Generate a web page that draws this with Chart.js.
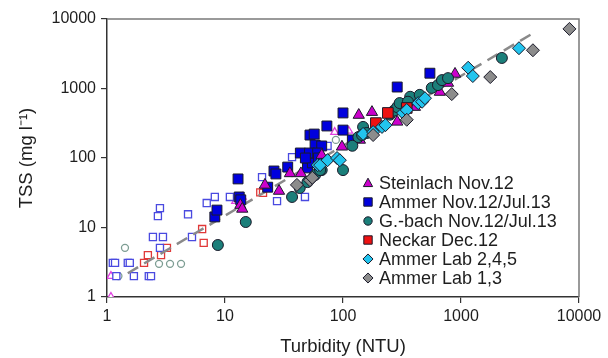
<!DOCTYPE html>
<html>
<head>
<meta charset="utf-8">
<script src="https://cdn.jsdelivr.net/npm/chart.js"></script>
<style>
  body { margin: 0; background: #fff; }
  #wrap { width: 608px; height: 358px; }
</style>
</head>
<body>
<div id="wrap"><canvas id="tssChart"></canvas></div>
<script>
// Werte: [Trübung NTU, TSS mg/l]
const decadeTicks = [1, 10, 100, 1000, 10000];

const steinlach = [[13.5,21],[14,18.5],[21.8,41],[28.7,33.5],[35.5,60],[44,60],[66,110],[98,145],[139,182],
  [136,415],[176,457],[288,331],[390,575],[407,540],[662,890],[776,1200],[890,1620]];
const steinlachOpen = [[1.08,2.0],[1.08,1.0],[12.3,24],[14,27.5],[85,236],[112,245]];

const ammer = [[8.2,14.2],[8.55,17.8],[12.9,50],[13.2,27.5],[13.6,25],[23,38],[26,65],[27,59],[34,74],
  [43.5,118],[50,72],[55,85],[52.5,214],[57,221],[73,289],[58,154],[66,149],[52,118],[61,118],[48,100],
  [62,100],[100,445],[100,252],[120,182],[288,1050],[545,1660]];
const ammerOpen = [[1.12,3.1],[1.17,3.1],[1.2,2.0],[1.5,3.1],[1.56,3.1],[1.69,2.0],[2.26,2.0],[2.36,2.0],
  [2.45,7.3],[2.98,7.3],[2.81,5.1],[2.7,14.6],[2.81,19],[4.86,15.5],[5.25,7.3],[7.0,22.5],[8.2,27.5],
  [11.0,27.5],[20.6,53],[27.6,24],[37,103],[47.6,27.5],[74,149]];

const gbach = [[8.7,5.6],[15,12],[37,27.5],[43,37],[50,45],[58,57],[66,67],[64,67],[100,67],[120,150],
  [135,200],[148,280],[159,229],[145,214],[195,297],[250,420],[270,480],[288,540],[302,617],[371,760],
  [355,645],[447,810],[565,1020],[638,1120],[690,1320],[776,1410],[2220,2750]];
const gbachOpen = [[1.25,2.0],[1.42,5.1],[2.76,3.0],[3.42,3.0],[4.24,3.0],[87,182]];

const neckar = [[190,318],[240,445],[347,525]];
const neckarOpen = [[2.06,3.1],[2.22,4.0],[2.87,4.0],[3.22,5.1],[6.4,9.5],[6.6,6.0],[19.9,32],[21,31.5]];

const lab245 = [[61,79],[64,79],[74,93],[89,100],[94,93],[148,222],[180,236],[214,280],[229,297],[323,445],
  [347,490],[434,617],[468,645],[495,725],[1150,1990],[1260,1510],[3100,3800]];
const lab13 = [[40.7,41],[52.5,48],[55,52],[180,214],[347,355],[835,830],[1770,1460],[4070,3550],[8300,7200]];

// Regressionsgerade (gestrichelt)
const fitLine = [[1.5,2.2],[4250,6500]];

const toXY = arr => arr.map(p => ({ x: p[0], y: p[1] }));
const fontFamily = "'Liberation Sans', Arial, sans-serif";

function filledSet(label, data, style, fill, radius, order) {
  return {
    label: label, data: toXY(data), pointStyle: style, pointRadius: radius, pointHoverRadius: radius,
    backgroundColor: fill, borderColor: '#1a1a2a', borderWidth: 1, order: order
  };
}
function openSet(data, style, color, radius) {
  return {
    label: '', data: toXY(data), pointStyle: style, pointRadius: radius, pointHoverRadius: radius,
    backgroundColor: '#ffffff', borderColor: color, borderWidth: 1.3, order: 20, openMarker: true
  };
}

// Legende im Diagramm
const legendEntries = [
  { text: 'Steinlach Nov.12', style: 'triangle', fill: '#cc00cc' },
  { text: 'Ammer Nov.12/Jul.13', style: 'rect', fill: '#0000dd' },
  { text: 'G.-bach Nov.12/Jul.13', style: 'circle', fill: '#1b7f7a' },
  { text: 'Neckar Dec.12', style: 'rect', fill: '#ee1111' },
  { text: 'Ammer Lab 2,4,5', style: 'rectRot', fill: '#22c4ee' },
  { text: 'Ammer Lab 1,3', style: 'rectRot', fill: '#8c8c8c' }
];

function markerPath(ctx, style, x, y, r) {
  ctx.beginPath();
  if (style === 'circle') {
    ctx.arc(x, y, r, 0, Math.PI * 2);
  } else if (style === 'rect') {
    ctx.rect(x - r, y - r, 2 * r, 2 * r);
  } else if (style === 'triangle') {
    ctx.moveTo(x, y - r * 1.15);
    ctx.lineTo(x + r * 1.1, y + r * 0.85);
    ctx.lineTo(x - r * 1.1, y + r * 0.85);
    ctx.closePath();
  } else {
    ctx.moveTo(x, y - r * 1.2);
    ctx.lineTo(x + r * 1.2, y);
    ctx.lineTo(x, y + r * 1.2);
    ctx.lineTo(x - r * 1.2, y);
    ctx.closePath();
  }
}

const framePlugin = {
  id: 'frameAndLegend',
  beforeDatasetsDraw(chart) {
    const { ctx, chartArea: a } = chart;
    ctx.save();
    ctx.strokeStyle = '#7a7a7a';
    ctx.lineWidth = 1.5;
    ctx.beginPath();
    ctx.moveTo(a.left, a.top);
    ctx.lineTo(a.right, a.top);
    ctx.lineTo(a.right, a.bottom);
    ctx.stroke();
    ctx.restore();
  },
  afterDraw(chart) {
    const { ctx, chartArea: a } = chart;
    const x0 = a.left + 261, y0 = a.top + 164, step = 19;
    ctx.save();
    ctx.font = '18px ' + fontFamily;
    ctx.textBaseline = 'middle';
    legendEntries.forEach((e, i) => {
      const y = y0 + i * step;
      markerPath(ctx, e.style, x0, y, 4.2);
      ctx.fillStyle = e.fill;
      ctx.fill();
      ctx.strokeStyle = '#1a1a2a';
      ctx.lineWidth = 1;
      ctx.stroke();
      ctx.fillStyle = '#1e1e1e';
      ctx.fillText(e.text, x0 + 11, y + 1);
    });
    ctx.restore();
  }
};

const ctx = document.getElementById('tssChart').getContext('2d');
new Chart(ctx, {
  type: 'scatter',
  data: {
    datasets: [
      openSet(ammerOpen, 'rect', '#4a4ae0', 5),
      openSet(neckarOpen, 'rect', '#e03838', 5),
      openSet(gbachOpen, 'circle', '#7d9d93', 3.5),
      openSet(steinlachOpen, 'triangle', '#e040e0', 4.5),
      {
        label: '', type: 'line', data: toXY(fitLine), showLine: true, pointRadius: 0,
        borderColor: '#8a8a8a', borderWidth: 2.5, borderDash: [12, 7], fill: false, order: 15
      },
      filledSet('Ammer Nov.12/Jul.13', ammer, 'rect', '#0000dd', 7, 6),
      filledSet('Steinlach Nov.12', steinlach, 'triangle', '#cc00cc', 6.5, 5),
      filledSet('G.-bach Nov.12/Jul.13', gbach, 'circle', '#1b7f7a', 5.5, 4),
      filledSet('Neckar Dec.12', neckar, 'rect', '#ee1111', 7.5, 3),
      filledSet('Ammer Lab 2,4,5', lab245, 'rectRot', '#22c4ee', 6.5, 2),
      filledSet('Ammer Lab 1,3', lab13, 'rectRot', '#8c8c8c', 6.5, 1)
    ]
  },
  options: {
    responsive: true,
    maintainAspectRatio: false,
    animation: false,
    layout: { padding: { top: 19, right: 29, left: 0, bottom: 0 } },
    plugins: {
      legend: { display: false },
      tooltip: { enabled: false }
    },
    scales: {
      x: {
        type: 'logarithmic',
        min: 1, max: 10000,
        afterBuildTicks: s => { s.ticks = decadeTicks.map(v => ({ value: v })); },
        afterFit: s => { s.height = 61; },
        ticks: {
          color: '#1e1e1e', font: { family: fontFamily, size: 16 }, padding: 4, maxRotation: 0,
          callback: v => String(v)
        },
        grid: { display: true, drawOnChartArea: false, drawTicks: true, tickLength: 6, color: '#333', lineWidth: 1.2 },
        border: { display: true, color: '#333', width: 1.5 },
        title: {
          display: true, text: 'Turbidity (NTU)', color: '#1e1e1e',
          font: { family: fontFamily, size: 18.5 }, padding: { top: 2, bottom: 0 }
        }
      },
      y: {
        type: 'logarithmic',
        min: 1, max: 10000,
        afterBuildTicks: s => { s.ticks = decadeTicks.map(v => ({ value: v })); },
        afterFit: s => { s.width = 107; },
        ticks: {
          color: '#1e1e1e', font: { family: fontFamily, size: 16 }, padding: 5,
          callback: v => String(v)
        },
        grid: { display: true, drawOnChartArea: false, drawTicks: true, tickLength: 6, color: '#333', lineWidth: 1.2 },
        border: { display: true, color: '#333', width: 1.5 },
        title: {
          display: true, text: 'TSS (mg l\u207B\u00B9)', color: '#1e1e1e',
          font: { family: fontFamily, size: 18.5 }, padding: { top: 16, bottom: 0 }
        }
      }
    }
  },
  plugins: [framePlugin]
});
</script>
</body>
</html>
